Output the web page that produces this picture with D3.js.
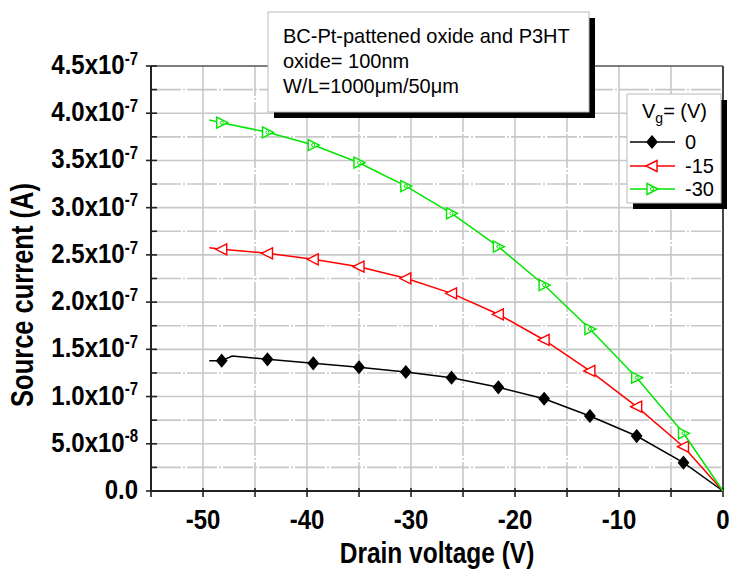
<!DOCTYPE html>
<html><head><meta charset="utf-8">
<script src="https://cdn.jsdelivr.net/npm/d3@7"></script>
<style>
html,body{margin:0;padding:0;background:#fff;}
svg{display:block;}
text{font-family:"Liberation Sans",Arial,sans-serif;fill:#000;}
</style></head>
<body>
<svg id="chart" width="731" height="572"></svg>
<script>
// ---- data ----
const drainVoltage = [-48.2,-43.8,-39.4,-35.0,-30.5,-26.1,-21.6,-17.2,-12.8,-8.3,-3.8,0];
const seriesNames = ["0","-15","-30"];
const current0  = [1.380e-7,1.394e-7,1.352e-7,1.310e-7,1.260e-7,1.200e-7,1.098e-7,0.977e-7,0.794e-7,0.582e-7,0.300e-7,0];
const current15 = [2.559e-7,2.517e-7,2.453e-7,2.375e-7,2.252e-7,2.093e-7,1.871e-7,1.599e-7,1.271e-7,0.893e-7,0.469e-7,0];
const current30 = [3.900e-7,3.798e-7,3.663e-7,3.476e-7,3.229e-7,2.940e-7,2.587e-7,2.181e-7,1.715e-7,1.200e-7,0.611e-7,0];
// extra points of the connecting lines (lines start before the first marker)
const lineLeadVoltage0 = [-49.4,-48.2,-47.2];
const lineLeadCurrent0 = [1.380e-7,1.380e-7,1.430e-7];
const lineLeadVoltage15 = [-49.4];
const lineLeadCurrent15 = [2.576e-7];
const lineLeadVoltage30 = [-49.4];
const lineLeadCurrent30 = [3.928e-7];
const seriesColors = ["#000000","#ff0000","#00e600"];

const xTickValues = [-50,-40,-30,-20,-10,0];
const xTickLabels = ["-50","-40","-30","-20","-10","0"];
const xMinorTicks = [-55,-45,-35,-25,-15,-5];
const yTickValues = [0,0.5e-7,1.0e-7,1.5e-7,2.0e-7,2.5e-7,3.0e-7,3.5e-7,4.0e-7,4.5e-7];
const yTickMantissa = ["0.0","5.0x10","1.0x10","1.5x10","2.0x10","2.5x10","3.0x10","3.5x10","4.0x10","4.5x10"];
const yTickExponent = ["","-8","-7","-7","-7","-7","-7","-7","-7","-7"];
const yMinorTicks = [0.25e-7,0.75e-7,1.25e-7,1.75e-7,2.25e-7,2.75e-7,3.25e-7,3.75e-7,4.25e-7];

const xTitle = "Drain voltage (V)";
const yTitle = "Source current (A)";
const noteLines = ["BC-Pt-pattened oxide and P3HT","oxide= 100nm","W/L=1000\u03bcm/50\u03bcm"];

// ---- layout ----
const svg = d3.select("#chart");
const L=151, R=723, T=66, B=491;
const x = d3.scaleLinear().domain([-55,0]).range([L,R]);
const y = d3.scaleLinear().domain([0,4.5e-7]).range([B,T]);

// grid
const grid = svg.append("g");
const gridCol = "#c8c8c8";
grid.selectAll(".vmaj").data(xTickValues.filter(v=>v>-55 && v<0)).enter().append("line")
  .attr("x1",d=>x(d)).attr("x2",d=>x(d)).attr("y1",T).attr("y2",B)
  .attr("stroke",gridCol).attr("stroke-width",1.6);
grid.selectAll(".vmin").data(xMinorTicks.filter(v=>v>-55)).enter().append("line")
  .attr("x1",d=>x(d)).attr("x2",d=>x(d)).attr("y1",T).attr("y2",B)
  .attr("stroke",gridCol).attr("stroke-width",1.6).attr("stroke-dasharray","30,2,2,2");
grid.selectAll(".hmaj").data(yTickValues.filter(v=>v>0 && v<4.5e-7)).enter().append("line")
  .attr("y1",d=>y(d)).attr("y2",d=>y(d)).attr("x1",L).attr("x2",R)
  .attr("stroke",gridCol).attr("stroke-width",1.6);
grid.selectAll(".hmin").data(yMinorTicks).enter().append("line")
  .attr("y1",d=>y(d)).attr("y2",d=>y(d)).attr("x1",L).attr("x2",R)
  .attr("stroke",gridCol).attr("stroke-width",1.6).attr("stroke-dasharray","30,2,2,2");

// frame top/right
svg.append("line").attr("x1",L).attr("x2",R).attr("y1",T).attr("y2",T).attr("stroke","#555").attr("stroke-width",1.5);
svg.append("line").attr("x1",R).attr("x2",R).attr("y1",T).attr("y2",B).attr("stroke","#333").attr("stroke-width",1.8);

// axes
svg.append("line").attr("x1",L).attr("x2",L).attr("y1",T).attr("y2",B+1).attr("stroke","#222").attr("stroke-width",2);
svg.append("line").attr("x1",L-1).attr("x2",R).attr("y1",B).attr("y2",B).attr("stroke","#222").attr("stroke-width",2);
// y ticks
svg.selectAll(".ytk").data(yTickValues).enter().append("line")
  .attr("x1",L-5).attr("x2",L+6).attr("y1",d=>y(d)).attr("y2",d=>y(d)).attr("stroke","#222").attr("stroke-width",1.6);
svg.selectAll(".ytm").data(yMinorTicks).enter().append("line")
  .attr("x1",L).attr("x2",L+6).attr("y1",d=>y(d)).attr("y2",d=>y(d)).attr("stroke","#222").attr("stroke-width",1.6);
// x ticks
svg.selectAll(".xtk").data(xTickValues.concat(xMinorTicks)).enter().append("line")
  .attr("x1",d=>x(d)).attr("x2",d=>x(d)).attr("y1",B-3).attr("y2",B+6).attr("stroke","#222").attr("stroke-width",1.6);

// y tick labels
const yl = svg.selectAll(".ylab").data(yTickValues).enter().append("text")
  .attr("transform",d=>`translate(138,${y(d)+8}) scale(1,1.17)`)
  .attr("text-anchor","end").style("font-size","24px").style("font-weight","bold");
yl.append("tspan").text((d,i)=>yTickMantissa[i]);
yl.append("tspan").attr("dy",-8).style("font-size","15px").text((d,i)=>yTickExponent[i]);

// x tick labels
svg.selectAll(".xlab").data(xTickValues).enter().append("text")
  .attr("transform",d=>`translate(${x(d)},529) scale(1,1.17)`)
  .attr("text-anchor","middle").style("font-size","24px").style("font-weight","bold")
  .text((d,i)=>xTickLabels[i]);

// titles
svg.append("text").attr("transform","translate(437,563) scale(1,1.17)")
  .attr("text-anchor","middle").style("font-size","24.5px").style("font-weight","bold").text(xTitle);
svg.append("text").attr("transform","translate(33,295) rotate(-90) scale(1,1.2)")
  .attr("text-anchor","middle").style("font-size","25.5px").style("font-weight","bold").text(yTitle);

// series
const seriesCurrents = [current0,current15,current30];
const leadV = [lineLeadVoltage0,lineLeadVoltage15,lineLeadVoltage30];
const leadI = [lineLeadCurrent0,lineLeadCurrent15,lineLeadCurrent30];
const line = d3.line().x(d=>x(d[0])).y(d=>y(d[1]));
const markerPaths = [
  "M0,-6L5,0L0,6L-5,0Z",
  "M-6,0L5,-5.5L5,5.5Z",
  "M6,0L-5,-5.5L-5,5.5Z"
];
function drawMarker(g, k, cx, cy){
  const p = g.append("path").attr("d",markerPaths[k]).attr("transform",`translate(${cx},${cy})`)
    .attr("stroke",seriesColors[k]).attr("stroke-width",1.4);
  if(k===0) p.attr("fill",seriesColors[k]);
  else p.attr("fill","#fff");
  if(k===2) g.append("circle").attr("cx",cx).attr("cy",cy).attr("r",1.6).attr("fill","none").attr("stroke",seriesColors[k]).attr("stroke-width",1);
}
seriesCurrents.forEach((cur,k)=>{
  const pts = leadV[k].map((v,i)=>[v,leadI[k][i]]);
  drainVoltage.forEach((v,i)=>{ if(v>leadV[k][leadV[k].length-1]) pts.push([v,cur[i]]); });
  const g = svg.append("g");
  g.append("path").attr("d",line(pts)).attr("fill","none").attr("stroke",seriesColors[k]).attr("stroke-width",1.5);
  drainVoltage.forEach((v,i)=>{ if(v<0) drawMarker(g,k,x(v),y(cur[i])); });
});

// note box
const nb = {x:268,y:12,w:321,h:100};
svg.append("rect").attr("x",nb.x+6).attr("y",nb.y+6).attr("width",nb.w).attr("height",nb.h).attr("fill","#000");
svg.append("rect").attr("x",nb.x).attr("y",nb.y).attr("width",nb.w).attr("height",nb.h).attr("fill","#fff").attr("stroke","#bbb").attr("stroke-width",1);
svg.selectAll(".note").data(noteLines).enter().append("text")
  .attr("transform",(d,i)=>`translate(283,${43+i*25}) scale(1,1.05)`)
  .style("font-size","20px").text(d=>d);

// legend
const lb = {x:627,y:94,w:94,h:109};
svg.append("rect").attr("x",lb.x+6).attr("y",lb.y+6).attr("width",lb.w).attr("height",lb.h).attr("fill","#000");
svg.append("rect").attr("x",lb.x).attr("y",lb.y).attr("width",lb.w).attr("height",lb.h).attr("fill","#fff").attr("stroke","#bbb").attr("stroke-width",1);
const lt = svg.append("text").attr("transform","translate(642,118) scale(1,1.05)").style("font-size","20px");
lt.append("tspan").text("V");
lt.append("tspan").attr("dy",5).style("font-size","14px").text("g");
lt.append("tspan").attr("dy",-5).text("= (V)");
const rowY = [142,166,189];
seriesNames.forEach((nm,k)=>{
  const g = svg.append("g");
  g.append("line").attr("x1",630).attr("x2",675).attr("y1",rowY[k]).attr("y2",rowY[k]).attr("stroke",seriesColors[k]).attr("stroke-width",1.5);
  drawMarker(g,k,652,rowY[k]);
  g.append("text").attr("transform",`translate(685,${rowY[k]+7}) scale(1,1.05)`).style("font-size","20px").text(nm);
});
</script>
</body></html>
